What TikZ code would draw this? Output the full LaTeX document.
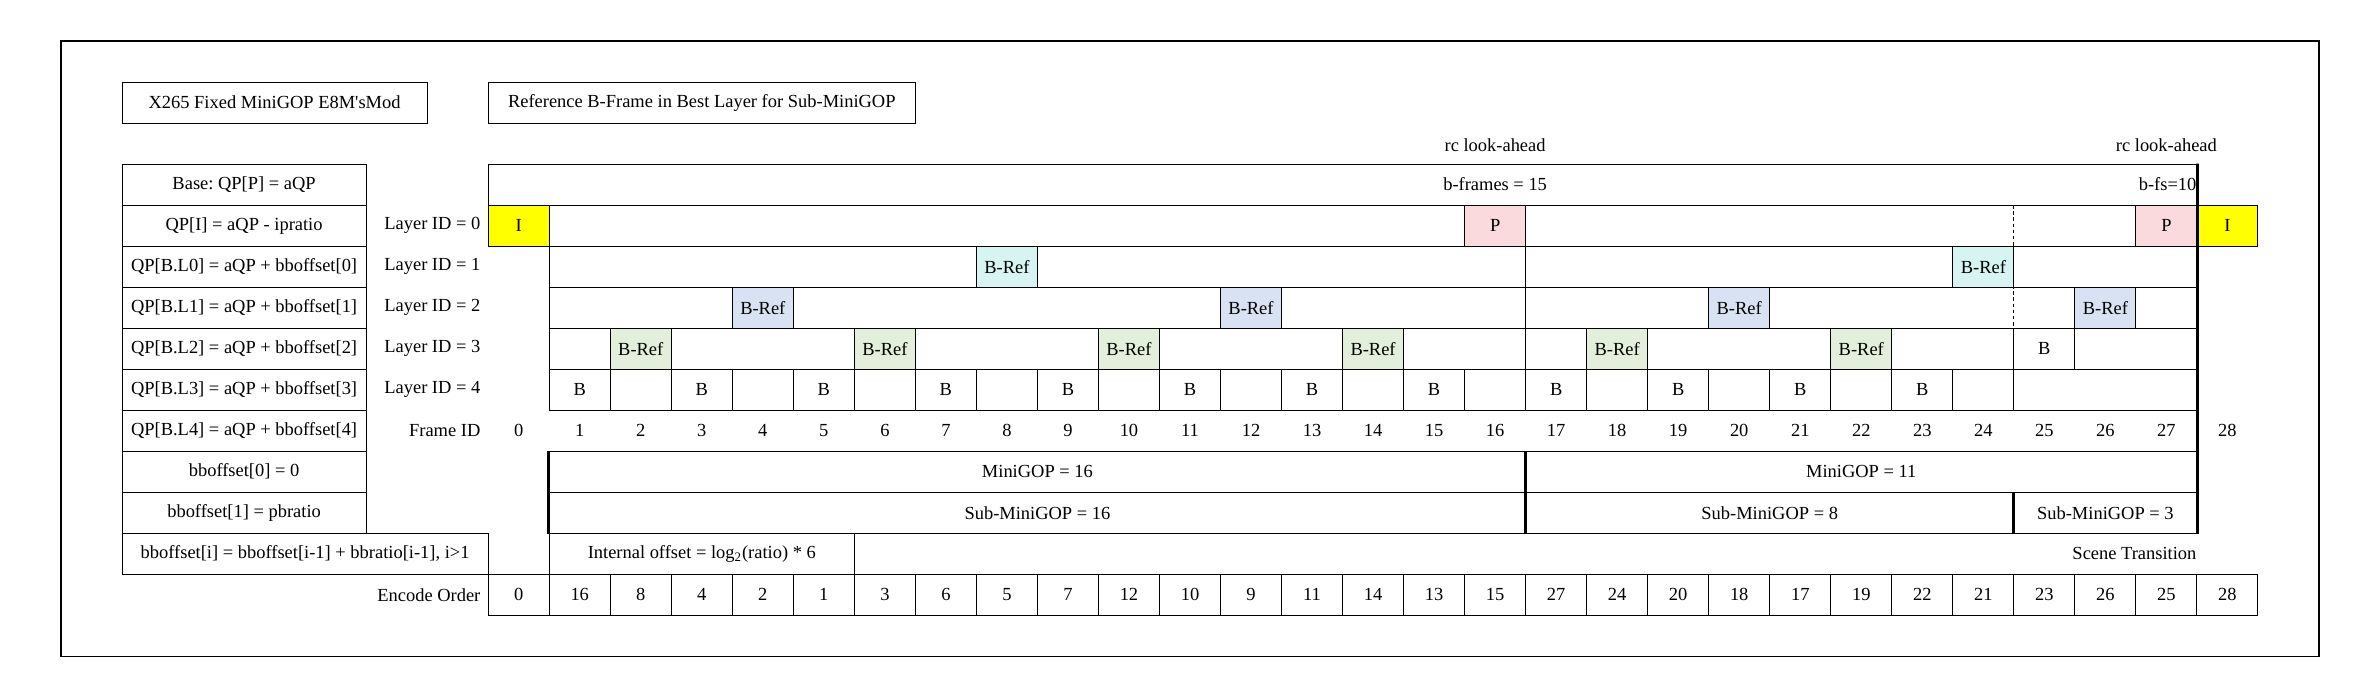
\documentclass[tikz,border=0pt]{standalone}
\usepackage{fontspec}
\setmainfont{Liberation Serif}
\usepackage{xcolor}
\usepackage{tikz}
\usetikzlibrary{positioning}
\definecolor{iyellow}{HTML}{FFFF00}
\definecolor{ppink}{HTML}{FADADD}
\definecolor{refcyan}{HTML}{D5F4F2}
\definecolor{refblue}{HTML}{D9E2F3}
\definecolor{refgreen}{HTML}{E2EFDA}
\frenchspacing

\begin{document}
\begin{tikzpicture}[
  x=1.22cm, y=-0.82cm,
  line width=0.6pt,
  every node/.style={font=\fontsize{10.5}{12}\selectfont},
  cell/.style={draw, minimum width=1.22cm, minimum height=0.82cm, inner sep=0pt},
  wide/.style={draw, minimum width=#1*1.22cm, minimum height=0.82cm, inner sep=0pt},
  iframe/.style={cell, fill=iyellow},
  pframe/.style={cell, fill=ppink},
  refa/.style={cell, fill=refcyan},
  refb/.style={cell, fill=refblue},
  refc/.style={cell, fill=refgreen},
  rowlbl/.style={anchor=east, inner sep=0pt},
  sep/.style={line width=1.6pt},
  cut/.style={dash pattern=on 2pt off 1.5pt},
]
\useasboundingbox (-8,-4) rectangle (31,13);
\draw (-7,-3) rectangle (30,12);

\node[wide=5] (title) at (-3.5,-1.5) {X265 Fixed MiniGOP E8M\textquotesingle sMod};
\node[wide=7] (subtitle) at (3.5,-1.5) {Reference B-Frame in Best Layer for Sub-MiniGOP};

\node (rc1) at (16.5,-0.45) {rc look-ahead};
\node (rc2) at (27.5,-0.45) {rc look-ahead};
\node[wide=28] (bf) at (14,0.5) {};
\node (bfa) at (16.5,0.5) {b-frames = 15};
\node[anchor=east, inner sep=0pt] (bfb) at (28,0.5) {b-fs=10};

\foreach \r/\t in {0/{Base: QP[P] = aQP}, 1/{QP[I] = aQP - ipratio},
    2/{QP[B.L0] = aQP + bboffset[0]}, 3/{QP[B.L1] = aQP + bboffset[1]},
    4/{QP[B.L2] = aQP + bboffset[2]}, 5/{QP[B.L3] = aQP + bboffset[3]},
    6/{QP[B.L4] = aQP + bboffset[4]}, 7/{bboffset[0] = 0}, 8/{bboffset[1] = pbratio}}
  \node[wide=4] (qp\r) at (-4,\r+0.5) {\t};
\node[wide=6] (qpi) at (-3,9.5) {bboffset[i] = bboffset[i-1] + bbratio[i-1], i>1};

\foreach \r in {0,...,4}
  \node[rowlbl] (lid\r) at (-0.12,\r+1.5) {Layer ID = \r};
\node[rowlbl] (fid) at (-0.12,6.5) {Frame ID};
\node[rowlbl] (encl) at (-0.12,10.5) {Encode Order};

\coordinate (cut25) at (25,1);
\draw[cut] (cut25) -- ++(0,5);

\foreach \r in {1,...,4} {
  \node[wide=16] (la\r) at (9,\r+0.5) {};
  \node[wide=11] (lb\r) at (22.5,\r+0.5) {};
}
\foreach \k in {1,3,...,23}
  \node[cell] (b\k) at (\k+0.5,5.5) {B};
\foreach \k in {2,4,...,24}
  \node[cell] (n\k) at (\k+0.5,5.5) {};
\node[wide=3, draw=none] (lb5) at (26.5,5.5) {};
\draw (lb5.south west) -- (lb5.south east);

\node[iframe] (i0) at (0.5,1.5) {I};
\node[pframe] (p16) at (16.5,1.5) {P};
\node[pframe] (p27) at (27.5,1.5) {P};
\node[iframe] (i28) at (28.5,1.5) {I};
\foreach \k in {8,24}
  \node[refa] (ra\k) at (\k+0.5,2.5) {B-Ref};
\foreach \k in {4,12,20,26}
  \node[refb] (rb\k) at (\k+0.5,3.5) {B-Ref};
\foreach \k in {2,6,...,22}
  \node[refc] (rg\k) at (\k+0.5,4.5) {B-Ref};
\node[cell] (b25) at (25.5,4.5) {B};

\foreach \k in {0,...,28}
  \node (f\k) at (\k+0.5,6.5) {\k};

\node[wide=16] (mg1) at (9,7.5) {MiniGOP = 16};
\node[wide=11] (mg2) at (22.5,7.5) {MiniGOP = 11};
\node[wide=16] (smg1) at (9,8.5) {Sub-MiniGOP = 16};
\node[wide=8] (smg2) at (21,8.5) {Sub-MiniGOP = 8};
\node[wide=3] (smg3) at (26.5,8.5) {Sub-MiniGOP = 3};

\node[wide=5] (ioff) at (3.5,9.5) {Internal offset = log\textsubscript{2}(ratio) * 6};
\node[anchor=east, inner sep=0pt] (scene) at (28,9.5) {Scene Transition};

\foreach \k/\v in {0/0,1/16,2/8,3/4,4/2,5/1,6/3,7/6,8/5,9/7,10/12,11/10,12/9,13/11,
    14/14,15/13,16/15,17/27,18/24,19/20,20/18,21/17,22/19,23/22,24/21,25/23,26/26,27/25,28/28}
  \node[cell] (enc\k) at (\k+0.5,10.5) {\v};

\draw[sep] (bf.north east) -- (smg3.south east);
\draw[sep] (mg1.north west) -- (smg1.south west);
\draw[sep] (mg2.north west) -- (smg2.south west);
\draw[sep] (smg3.north west) -- (smg3.south west);
\end{tikzpicture}
\end{document}
